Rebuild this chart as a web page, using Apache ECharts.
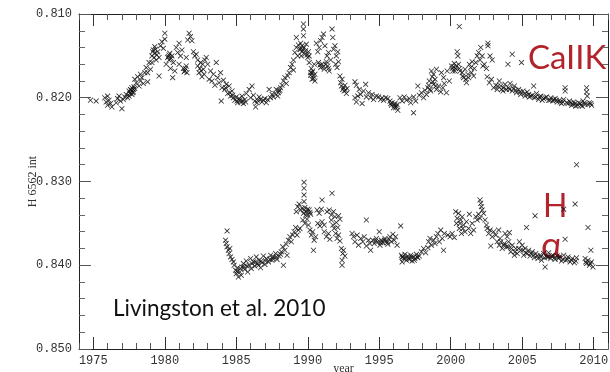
<!DOCTYPE html>
<html>
<head>
<meta charset="utf-8">
<script src="https://cdn.jsdelivr.net/npm/echarts@6/dist/echarts.min.js"></script>
<style>
  html, body { margin: 0; padding: 0; background: #fff; }
  #chart { width: 610px; height: 372px; }
</style>
</head>
<body>
<div id="chart"></div>
<script>
// Ca II K index (upper band) as [year, index]
const caK = [
  [1974.8,.8203],[1975.2,.8204],
  [1975.8,.8200],[1975.9,.8205],[1976.0,.8198],[1976.0,.8209],[1976.1,.8203],[1976.2,.8207],[1976.3,.8211],
  [1976.6,.8206],[1976.7,.8201],[1976.8,.8198],[1976.9,.8204],[1977.0,.8213],[1977.1,.8202],[1977.2,.8199],
  [1977.3,.8196],[1977.4,.8200],[1977.5,.8192],[1977.5,.8198],[1977.6,.8190],[1977.6,.8194],[1977.7,.8188],[1977.7,.8196],[1977.8,.8190],[1977.8,.8193],[1977.9,.8189],
  [1977.65,.8191],[1977.75,.8194],[1977.85,.8187],[1977.55,.8195],
  [1977.9,.8178],[1978.0,.8182],[1978.1,.8175],[1978.2,.8186],[1978.3,.8172],[1978.3,.8180],[1978.4,.8176],[1978.5,.8183],[1978.6,.8170],
  [1978.7,.8164],[1978.8,.8170],[1978.8,.8181],[1978.9,.8158],[1979.0,.8166],
  [1979.1,.8150],[1979.1,.8158],[1979.2,.8143],[1979.3,.8147],[1979.3,.8139],[1979.4,.8155],[1979.5,.8145],[1979.6,.8152],[1979.6,.8174],
  [1979.15,.8145],[1979.25,.8152],[1979.35,.8142],[1979.45,.8149],
  [1979.7,.8138],[1979.8,.8133],[1979.9,.8141],[1980.0,.8123],[1980.0,.8130],
  [1980.1,.8160],[1980.2,.8152],[1980.3,.8149],[1980.3,.8155],[1980.4,.8165],[1980.5,.8150],[1980.55,.8176],[1980.6,.8158],[1980.7,.8168],
  [1980.25,.8151],[1980.35,.8147],[1980.45,.8153],
  [1980.8,.8140],[1980.9,.8146],[1981.0,.8135],[1981.0,.8160],[1981.1,.8150],[1981.2,.8143],[1981.3,.8165],[1981.4,.8168],[1981.5,.8162],[1981.5,.8152],
  [1981.35,.8169],[1981.45,.8165],[1981.55,.8170],
  [1981.6,.8131],[1981.7,.8123],[1981.8,.8127],[1981.9,.8132],[1982.0,.8145],[1982.1,.8150],[1982.2,.8148],[1982.3,.8155],
  [1982.3,.8162],[1982.4,.8170],[1982.5,.8158],[1982.6,.8175],[1982.7,.8166],[1982.8,.8155],[1982.9,.8152],[1983.0,.8160],[1983.1,.8178],
  [1982.45,.8165],[1982.55,.8168],[1982.65,.8160],[1982.75,.8172],
  [1983.2,.8168],[1983.3,.8180],[1983.4,.8172],[1983.5,.8185],[1983.6,.8158],[1983.7,.8176],
  [1983.8,.8182],[1983.9,.8170],[1983.95,.8204],[1984.0,.8188],[1984.1,.8179],[1984.2,.8190],[1984.3,.8184],
  [1984.4,.8195],[1984.5,.8186],[1984.6,.8198],[1984.7,.8192],[1984.8,.8200],
  [1984.25,.8188],[1984.55,.8194],[1984.75,.8197],
  [1984.9,.8203],[1985.0,.8199],[1985.1,.8206],[1985.2,.8201],[1985.3,.8205],[1985.4,.8198],[1985.5,.8207],[1985.6,.8202],
  [1985.05,.8204],[1985.25,.8203],[1985.45,.8204],[1985.65,.8205],
  [1985.7,.8195],[1985.9,.8190],[1986.0,.8200],[1986.1,.8186],[1986.2,.8197],
  [1986.3,.8204],[1986.35,.8211],[1986.5,.8203],[1986.6,.8199],[1986.8,.8205],[1987.0,.8201],[1987.1,.8206],[1987.3,.8190],[1987.4,.8200],[1987.5,.8196],
  [1986.45,.8206],[1986.7,.8202],[1986.9,.8203],[1987.2,.8202],[1987.6,.8199],
  [1987.7,.8195],[1987.8,.8190],[1987.9,.8198],[1988.0,.8192],[1988.1,.8188],[1988.2,.8185],
  [1987.95,.8194],[1988.05,.8191],
  [1988.3,.8180],[1988.4,.8176],[1988.5,.8183],[1988.6,.8174],[1988.7,.8170],
  [1988.8,.8164],[1988.9,.8160],[1989.0,.8167],
  [1989.0,.8155],[1989.1,.8146],[1989.2,.8128],[1989.2,.8140],[1989.3,.8150],[1989.35,.8137],
  [1989.45,.8142],[1989.5,.8135],[1989.55,.8150],[1989.6,.8145],[1989.7,.8112],[1989.7,.8118],[1989.7,.8126],[1989.75,.8140],[1989.8,.8148],[1989.9,.8136],
  [1989.5,.8142],[1989.6,.8138],[1989.65,.8143],[1989.85,.8144],[1989.95,.8149],[1990.1,.8150],
  [1990.0,.8152],[1990.05,.8145],
  [1990.1,.8158],[1990.2,.8170],[1990.25,.8165],[1990.3,.8178],[1990.35,.8168],[1990.4,.8174],[1990.45,.8160],[1990.5,.8180],
  [1990.2,.8173],[1990.3,.8170],[1990.4,.8177],[1990.5,.8172],
  [1990.6,.8135],[1990.7,.8145],[1990.8,.8140],[1990.9,.8132],[1991.0,.8128],[1991.1,.8124],[1991.2,.8138],
  [1990.75,.8158],[1990.9,.8164],[1991.0,.8160],[1991.15,.8166],[1991.3,.8157],[1991.4,.8162],[1991.5,.8168],
  [1990.85,.8161],[1991.1,.8163],[1991.25,.8160],[1991.45,.8165],
  [1991.35,.8150],[1991.45,.8146],[1991.6,.8155],[1991.7,.8118],[1991.75,.8128],
  [1991.8,.8142],[1991.9,.8138],[1992.0,.8150],[1992.1,.8145],[1991.95,.8160],[1992.05,.8164],[1992.15,.8157],
  [1992.25,.8174],[1992.3,.8182],[1992.4,.8178],[1992.5,.8188],[1992.55,.8192],[1992.6,.8185],[1992.7,.8195],
  [1992.35,.8186],[1992.45,.8190],[1992.65,.8191],[1992.75,.8189],
  [1993.3,.8181],[1993.4,.8185],[1993.3,.8200],[1993.4,.8205],[1993.5,.8198],
  [1993.6,.8190],[1993.7,.8196],[1993.8,.8207],[1993.9,.8192],[1994.05,.8184],[1994.1,.8199],
  [1994.25,.8194],[1994.4,.8200],[1994.5,.8196],[1994.6,.8202],[1994.8,.8198],
  [1994.95,.8199],[1995.1,.8202],[1995.2,.8200],[1995.3,.8203],[1995.45,.8200],[1995.6,.8201],
  [1995.75,.8204],[1995.85,.8209],[1995.9,.8206],[1996.0,.8212],[1996.1,.8207],[1996.2,.8210],[1996.3,.8215],
  [1995.8,.8207],[1996.05,.8209],[1996.15,.8212],[1996.25,.8208],
  [1996.45,.8200],[1996.6,.8204],[1996.75,.8199],[1996.9,.8203],
  [1997.1,.8201],[1997.2,.8206],[1997.4,.8218],[1997.4,.8199],[1997.55,.8204],[1997.7,.8186],
  [1997.8,.8197],[1997.95,.8194],[1998.1,.8200],[1998.2,.8191],[1998.3,.8196],
  [1998.4,.8188],[1998.5,.8180],[1998.6,.8192],[1998.7,.8175],[1998.8,.8184],[1998.9,.8178],[1999.0,.8190],
  [1998.45,.8185],[1998.55,.8190],[1998.75,.8181],[1998.95,.8186],
  [1998.65,.8168],[1998.8,.8172],[1999.0,.8166],
  [1999.15,.8186],[1999.3,.8193],[1999.45,.8188],[1999.55,.8183],
  [1999.35,.8170],[1999.5,.8176],[1999.7,.8194],[1999.75,.8168],[1999.9,.8180],
  [2000.05,.8162],[2000.15,.8168],[2000.25,.8159],[2000.35,.8165],[2000.45,.8145],[2000.5,.8150],[2000.55,.8160],[2000.6,.8115],[2000.65,.8168],
  [2000.1,.8165],[2000.2,.8163],[2000.3,.8168],[2000.4,.8162],[2000.6,.8165],
  [2000.8,.8170],[2000.9,.8176],[2001.0,.8166],[2001.1,.8182],[2001.2,.8172],[2001.3,.8160],[2001.4,.8164],[2001.5,.8157],[2001.6,.8174],[2001.65,.8165],
  [2000.85,.8174],[2001.05,.8178],[2001.25,.8176],[2001.45,.8170],
  [2001.75,.8158],[2001.85,.8150],[2001.95,.8146],[2002.05,.8155],[2002.1,.8140],[2002.2,.8150],[2002.25,.8162],
  [2002.35,.8160],[2002.5,.8165],[2002.6,.8135],[2002.6,.8138],[2002.75,.8150],[2002.9,.8155],
  [2002.55,.8175],[2002.7,.8182],[2002.85,.8178],[2003.0,.8188],[2003.15,.8185],[2003.25,.8190],
  [2003.4,.8180],[2003.5,.8186],[2003.65,.8192],[2003.8,.8184],[2003.9,.8190],
  [2003.3,.8186],[2003.55,.8190],[2003.7,.8188],
  [2004.0,.8160],[2004.3,.8148],[2004.95,.8158],
  [2004.05,.8188],[2004.15,.8183],[2004.3,.8192],[2004.45,.8186],[2004.6,.8194],
  [2004.1,.8190],[2004.4,.8189],[2004.55,.8191],[2004.85,.8193],
  [2004.75,.8190],[2004.9,.8196],[2005.05,.8192],[2005.2,.8198],[2005.35,.8193],[2005.5,.8199],[2005.8,.8186],
  [2005.15,.8195],[2005.45,.8196],[2005.6,.8198],[2005.95,.8199],
  [2005.7,.8197],[2005.85,.8200],[2006.0,.8195],[2006.15,.8202],[2006.3,.8198],[2006.5,.8201],
  [2006.2,.8199],[2006.4,.8203],[2006.6,.8200],[2006.95,.8203],
  [2006.7,.8199],[2006.85,.8203],[2007.0,.8200],[2007.15,.8204],[2007.3,.8201],[2007.45,.8205],
  [2007.2,.8202],[2007.4,.8203],[2007.65,.8205],[2007.85,.8205],
  [2007.6,.8203],[2007.75,.8207],[2007.9,.8202],[2008.0,.8188],[2008.0,.8192],[2008.1,.8206],
  [2008.2,.8207],[2008.4,.8206],[2008.55,.8208],[2008.7,.8207],[2008.9,.8209],
  [2008.3,.8204],[2008.45,.8209],[2008.6,.8205],[2008.75,.8210],
  [2009.05,.8207],[2009.2,.8210],[2009.35,.8206],[2009.6,.8208],[2009.8,.8207],
  [2008.95,.8206],[2009.1,.8209],[2009.25,.8204],[2009.4,.8208],[2009.5,.8188],[2009.5,.8193],[2009.55,.8198],[2009.7,.8206],[2009.85,.8209]
];

// H alpha 6562 index (lower band)
const hAlpha = [
  [1984.36,.8359],
  [1984.25,.8370],[1984.3,.8374],[1984.35,.8378],[1984.45,.8382],[1984.5,.8386],[1984.55,.8380],[1984.6,.8390],[1984.7,.8393],[1984.8,.8396],
  [1984.85,.8400],[1984.95,.8406],[1985.0,.8410],[1985.1,.8403],[1985.15,.8414],[1985.25,.8408],[1985.35,.8412],[1985.4,.8402],
  [1985.05,.8407],[1985.3,.8404],[1985.55,.8402],[1985.75,.8401],
  [1985.5,.8398],[1985.6,.8405],[1985.7,.8395],[1985.8,.8408],[1985.9,.8400],[1986.0,.8392],[1986.05,.8404],
  [1986.1,.8398],[1986.35,.8396],[1986.55,.8400],[1986.75,.8395],
  [1986.2,.8396],[1986.3,.8401],[1986.4,.8390],[1986.5,.8398],[1986.6,.8394],[1986.7,.8403],[1986.8,.8397],[1986.9,.8389],[1987.0,.8399],
  [1987.05,.8395],[1987.35,.8393],[1987.55,.8392],[1987.8,.8390],
  [1987.1,.8392],[1987.25,.8396],[1987.4,.8388],[1987.5,.8394],[1987.6,.8390],[1987.75,.8386],[1987.85,.8393],[1988.0,.8389],[1988.1,.8387],
  [1988.15,.8384],[1988.25,.8378],[1988.3,.8400],[1988.4,.8382],[1988.5,.8375],[1988.55,.8388],
  [1988.65,.8370],[1988.75,.8366],[1988.85,.8372],[1988.95,.8364],
  [1989.05,.8360],[1989.15,.8355],[1989.25,.8364],[1989.35,.8358],[1989.45,.8356],
  [1989.2,.8336],[1989.3,.8330],[1989.4,.8327],[1989.5,.8334],
  [1989.74,.8301],[1989.74,.8308],[1989.74,.8316],[1989.74,.8324],
  [1989.6,.8332],[1989.7,.8338],[1989.8,.8331],[1989.9,.8336],[1990.0,.8340],[1990.1,.8334],[1990.2,.8339],
  [1989.75,.8334],[1989.85,.8340],[1990.0,.8333],[1990.15,.8337],
  [1989.65,.8346],[1989.8,.8350],[1989.95,.8345],[1990.05,.8352],
  [1990.15,.8358],[1990.25,.8364],[1990.35,.8360],[1990.45,.8370],[1990.55,.8366],[1990.4,.8382],
  [1990.65,.8334],[1990.8,.8338],[1990.95,.8333],[1991.0,.8322],[1991.7,.8314],
  [1990.7,.8350],[1990.85,.8353],[1991.0,.8348],[1991.15,.8352],
  [1991.15,.8360],[1991.3,.8366],[1991.45,.8362],[1991.55,.8369],
  [1991.35,.8336],[1991.5,.8334],[1991.65,.8340],[1991.8,.8336],[1991.9,.8342],
  [1991.65,.8346],[1991.75,.8352],[1991.85,.8356],[1992.0,.8349],[1992.1,.8355],
  [1991.95,.8362],[1992.05,.8368],[1992.15,.8364],[1992.25,.8371],
  [1992.15,.8341],[1992.25,.8345],
  [1992.35,.8380],[1992.45,.8386],[1992.5,.8382],[1992.6,.8389],[1992.4,.8394],[1992.4,.8400],
  [1993.1,.8362],[1993.2,.8366],[1993.3,.8372],[1993.45,.8364],[1993.55,.8376],[1993.7,.8368],
  [1993.85,.8372],[1993.95,.8366],[1994.1,.8346],[1994.1,.8377],[1994.25,.8370],[1994.35,.8374],[1994.4,.8382],
  [1994.55,.8370],[1994.65,.8374],[1994.8,.8368],[1994.9,.8372],[1995.0,.8360],[1995.05,.8376],[1995.15,.8370],[1995.25,.8373],
  [1994.75,.8371],[1995.1,.8373],[1995.35,.8370],[1995.55,.8373],[1995.7,.8369],
  [1995.4,.8368],[1995.5,.8371],[1995.6,.8375],[1995.75,.8366],[1995.85,.8372],
  [1995.95,.8363],[1996.05,.8370],[1996.15,.8366],[1996.25,.8376],
  [1996.5,.8353],[1996.6,.8390],[1996.6,.8396],
  [1996.55,.8388],[1996.7,.8392],[1996.8,.8387],[1996.9,.8394],[1997.0,.8389],[1997.1,.8393],[1997.2,.8388],[1997.3,.8395],
  [1996.65,.8390],[1996.85,.8391],[1997.05,.8392],[1997.25,.8390],[1997.45,.8394],[1997.65,.8390],
  [1997.4,.8390],[1997.5,.8392],[1997.6,.8387],[1997.7,.8391],[1997.8,.8389],
  [1997.95,.8384],[1998.1,.8380],[1998.25,.8385],[1998.4,.8379],
  [1998.45,.8372],[1998.55,.8368],[1998.65,.8376],[1998.8,.8370],[1998.9,.8374],[1999.0,.8366],
  [1999.1,.8362],[1999.2,.8372],[1999.3,.8358],[1999.4,.8368],[1999.5,.8382],[1999.55,.8362],
  [1999.8,.8364],[1999.95,.8366],[2000.1,.8362],[2000.25,.8367],
  [2000.35,.8336],[2000.45,.8344],[2000.55,.8338],[2000.65,.8350],[2000.8,.8342],
  [2000.4,.8350],[2000.7,.8346],[2000.85,.8356],
  [2000.6,.8356],[2000.75,.8362],[2000.9,.8352],[2001.0,.8360],[2001.1,.8348],
  [2001.25,.8356],[2001.3,.8339],[2001.4,.8362],[2001.5,.8350],[2001.6,.8358],
  [2001.75,.8342],[2001.85,.8346],[2001.95,.8339],[2002.05,.8344],[2002.05,.8322],[2002.1,.8326],[2002.15,.8330],[2002.2,.8334],
  [2002.3,.8338],[2002.4,.8346],[2002.5,.8352],
  [2002.55,.8356],[2002.65,.8362],[2002.75,.8358],[2002.8,.8377],[2002.9,.8366],[2003.0,.8360],
  [2003.15,.8364],[2003.25,.8372],[2003.35,.8358],[2003.45,.8368],
  [2003.8,.8362],[2003.95,.8366],[2004.1,.8361],
  [2003.4,.8376],[2003.6,.8380],[2003.75,.8374],[2003.9,.8378],
  [2003.5,.8372],[2003.7,.8376],[2004.0,.8378],[2004.25,.8380],[2004.5,.8384],[2004.75,.8380],
  [2004.05,.8372],[2004.2,.8384],[2004.3,.8376],[2004.45,.8388],[2004.55,.8380],[2004.65,.8386],
  [2004.8,.8372],[2004.9,.8382],[2005.0,.8376],[2005.1,.8388],[2005.2,.8380],[2005.3,.8355],[2005.35,.8386],
  [2005.05,.8382],[2005.25,.8385],[2005.6,.8386],[2005.8,.8388],
  [2005.9,.8341],
  [2005.45,.8382],[2005.55,.8389],[2005.7,.8384],[2005.85,.8391],[2005.95,.8386],[2006.1,.8392],[2006.25,.8388],[2006.35,.8394],
  [2006.05,.8389],[2006.3,.8390],[2006.55,.8391],[2006.8,.8390],
  [2006.5,.8386],[2006.6,.8402],[2006.7,.8390],[2006.85,.8385],[2007.0,.8392],[2007.15,.8388],[2007.3,.8393],[2007.45,.8389],
  [2007.05,.8389],[2007.25,.8391],[2007.55,.8392],[2007.85,.8393],
  [2007.9,.8333],[2008.0,.8369],[2008.7,.8327],[2008.8,.8280],
  [2007.6,.8390],[2007.75,.8395],[2007.9,.8388],[2008.05,.8394],[2008.2,.8390],[2008.35,.8396],[2008.5,.8392],[2008.65,.8397],[2008.8,.8391],
  [2008.15,.8393],[2008.45,.8394],[2008.75,.8395],
  [2009.4,.8392],[2009.5,.8398],[2009.6,.8355],[2009.6,.8394],[2009.7,.8400],[2009.8,.8382],[2009.85,.8396],[2009.95,.8402],
  [2009.45,.8396],[2009.75,.8398]
];

const yearMajor = [1975, 1980, 1985, 1990, 1995, 2000, 2005, 2010];

const cross = 'path://M0,1L1,0L5,4L9,0L10,1L6,5L10,9L9,10L5,6L1,10L0,9L4,5Z';
const tickFont = 'Liberation Mono';

const chart = echarts.init(document.getElementById('chart'));

function xAx(pos, major) {
  return {
    type: 'value', min: 1974, max: 2011, interval: 1, position: pos,
    axisLine: { show: !major, onZero: false, lineStyle: { color: '#222', width: 1 } },
    axisTick: major
      ? { inside: true, length: 12, customValues: yearMajor, lineStyle: { color: '#333' } }
      : { inside: true, length: 6, lineStyle: { color: '#555' } },
    axisLabel: (pos === 'bottom' && major)
      ? { show: true, customValues: yearMajor, formatter: v => String(v), fontFamily: tickFont, fontSize: 12, color: '#333', margin: 6 }
      : { show: false },
    splitLine: { show: false }
  };
}

function yAx(pos) {
  return {
    type: 'value', inverse: true, min: 0.81, max: 0.85, interval: 0.01, position: pos,
    axisLine: { show: true, onZero: false, lineStyle: { color: '#222', width: 1 } },
    axisTick: { inside: true, length: 12, lineStyle: { color: '#555' } },
    minorTick: { show: true, splitNumber: 5, length: 6, lineStyle: { color: '#666' } },
    axisLabel: pos === 'left'
      ? { formatter: v => v.toFixed(3), fontFamily: tickFont, fontSize: 12, color: '#333', margin: 7 }
      : { show: false },
    splitLine: { show: false },
    minorSplitLine: { show: false }
  };
}

const xAxes = [xAx('bottom', false), xAx('bottom', true), xAx('top', false), xAx('top', true)];
xAxes[1].name = 'year';
xAxes[1].nameLocation = 'middle';
xAxes[1].nameGap = 14;
xAxes[1].nameMoveOverlap = false;
xAxes[1].nameTextStyle = { fontFamily: 'Liberation Serif', fontSize: 12, color: '#333' };

const yAxes = [yAx('left'), yAx('right')];
yAxes[0].name = 'H 6562 int';
yAxes[0].nameLocation = 'middle';
yAxes[0].nameGap = 40;
yAxes[0].nameMoveOverlap = false;
yAxes[0].nameTextStyle = { fontFamily: 'Liberation Serif', fontSize: 12, color: '#333' };

const dotStyle = { color: '#141414', opacity: 0.9 };

chart.setOption({
  backgroundColor: '#fff',
  animation: false,
  grid: { left: 79, right: 2, top: 14, bottom: 23, outerBoundsMode: 'none', containLabel: false },
  xAxis: xAxes,
  yAxis: yAxes,
  series: [
    { name: 'CaIIK', type: 'scatter', data: caK, symbol: cross, symbolSize: 5.5, itemStyle: dotStyle },
    { name: 'Halpha', type: 'scatter', data: hAlpha, symbol: cross, symbolSize: 5.5, itemStyle: dotStyle }
  ],
  graphic: [
    { type: 'text', left: 528, top: 42, style: { text: 'CaIIK', font: '33px Lato', fill: '#b3232b' } },
    { type: 'text', left: 543, top: 191, style: { text: 'H', font: '32px Lato', fill: '#b3232b' } },
    { type: 'text', left: 541, top: 228, style: { text: 'α', font: '36px Lato', fill: '#b3232b' } },
    { type: 'text', left: 113, top: 297, style: { text: 'Livingston et al. 2010', font: '22.5px Lato', fill: '#111' } }
  ]
});
</script>
</body>
</html>
